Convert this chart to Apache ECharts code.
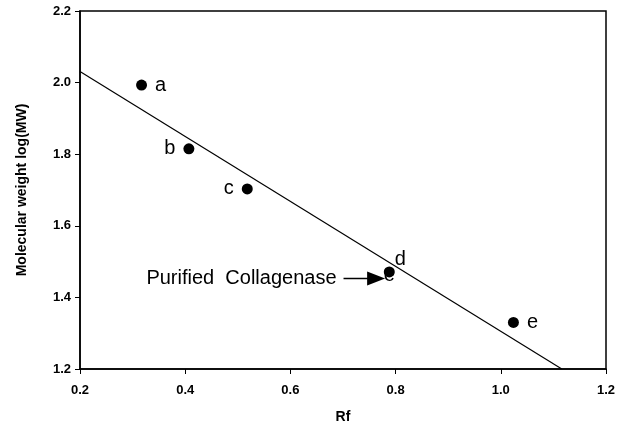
<!DOCTYPE html>
<html>
<head>
<meta charset="utf-8">
<script src="https://cdn.jsdelivr.net/npm/echarts@6/dist/echarts.min.js"></script>
<style>
  html, body { margin: 0; padding: 0; background: #fff; }
  #chart { width: 627px; height: 429px; }
</style>
</head>
<body>
<div id="chart"></div>
<script>
// standards
const markerNames = ["a", "b", "c", "d", "e"];
const rfValues = [0.317, 0.407, 0.518, 0.788, 1.024];
const logMw = [1.993, 1.815, 1.703, 1.471, 1.330];
// label side for each marker
const labelSide = ["right", "left", "left", "right", "right"];

// fitted line ends
const fitRf = [0.2, 1.116];
const fitLog = [2.031, 1.2];

// annotation
const noteText = "Purified  Collagenase";
const arrowRf = [0.701, 0.763];
const arrowLog = 1.453;

const font = "Liberation Sans, Arial, sans-serif";

const chart = echarts.init(document.getElementById("chart"));

const pointData = rfValues.map((x, i) => {
  let label = { show: true, formatter: markerNames[i], position: labelSide[i] };
  if (markerNames[i] === "d") {
    label = { show: true, formatter: markerNames[i], position: [11, -17] };
  }
  return { value: [x, logMw[i]], label: label };
});

const option = {
  animation: false,
  backgroundColor: "#fff",
  grid: {
    left: 80,
    right: 21,
    top: 11,
    bottom: 58,
    show: true,
    borderColor: "#000",
    borderWidth: 1.5,
  },
  xAxis: {
    type: "value",
    min: 0.2,
    max: 1.2,
    interval: 0.2,
    name: "Rf",
    nameLocation: "middle",
    nameGap: 41,
    nameTextStyle: { color: "#000", fontFamily: font, fontWeight: "bold", fontSize: 14 },
    axisLine: { show: true, onZero: false, lineStyle: { color: "#000", width: 1.5 } },
    axisTick: { show: true, length: 5, lineStyle: { color: "#000" } },
    axisLabel: {
      color: "#000",
      fontFamily: font,
      fontWeight: "bold",
      fontSize: 13,
      margin: 15,
      formatter: (v) => v.toFixed(1),
    },
    splitLine: { show: false },
  },
  yAxis: {
    type: "value",
    min: 1.2,
    max: 2.2,
    interval: 0.2,
    name: "Molecular weight log(MW)",
    nameLocation: "middle",
    nameGap: 51,
    nameTextStyle: { color: "#000", fontFamily: font, fontWeight: "bold", fontSize: 14 },
    axisLine: { show: true, onZero: false, lineStyle: { color: "#000", width: 1.5 } },
    axisTick: { show: true, length: 5, lineStyle: { color: "#000" } },
    axisLabel: {
      color: "#000",
      fontFamily: font,
      fontWeight: "bold",
      fontSize: 13,
      margin: 9,
      formatter: (v) => v.toFixed(1),
    },
    splitLine: { show: false },
  },
  series: [
    {
      type: "line",
      data: fitRf.map((x, i) => [x, fitLog[i]]),
      symbol: "none",
      lineStyle: { color: "#000", width: 1.2 },
      z: 2,
      markLine: {
        silent: true,
        symbol: ["none", "triangle"],
        symbolSize: [14, 18],
        itemStyle: { color: "#000" },
        lineStyle: { color: "#000", width: 1.3, type: "solid" },
        label: { show: false },
        data: [
          [
            { coord: [arrowRf[0], arrowLog] },
            { coord: [arrowRf[1], arrowLog] },
          ],
        ],
      },
    },
    {
      type: "scatter",
      data: pointData,
      symbol: "circle",
      symbolSize: 11,
      itemStyle: { color: "#000", opacity: 1 },
      label: {
        color: "#000",
        fontFamily: font,
        fontSize: 20,
        distance: 8,
      },
      z: 3,
    },
    {
      type: "scatter",
      data: [[rfValues[3], logMw[3]]],
      symbolSize: 0,
      itemStyle: { opacity: 1 },
      label: {
        show: true,
        position: "inside",
        offset: [0, 4],
        formatter: "e",
        color: "#000",
        fontFamily: font,
        fontSize: 20,
      },
      z: 2,
    },
    {
      type: "scatter",
      data: [[arrowRf[0], arrowLog]],
      symbolSize: 0,
      itemStyle: { opacity: 1 },
      label: {
        show: true,
        position: "left",
        distance: 7,
        formatter: noteText,
        color: "#000",
        fontFamily: font,
        fontSize: 20,
      },
    },
  ],
};

chart.setOption(option);
</script>
</body>
</html>
